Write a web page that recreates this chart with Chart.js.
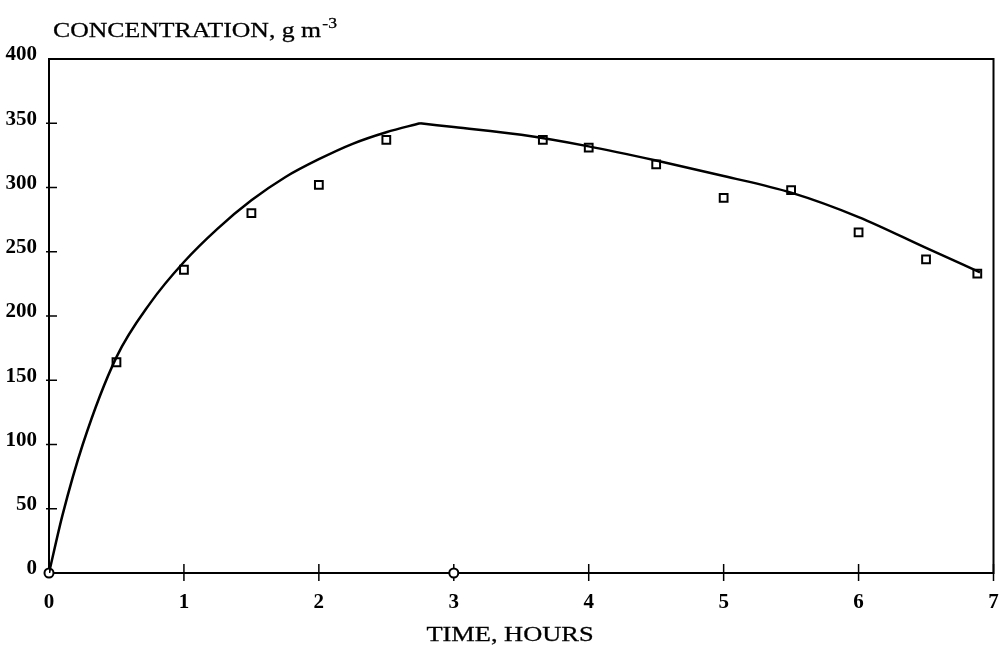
<!DOCTYPE html>
<html>
<head>
<meta charset="utf-8">
<script src="https://cdn.jsdelivr.net/npm/chart.js@4"></script>
<style>
  html, body { margin: 0; padding: 0; background: #fff; }
  #wrap { width: 1001px; height: 656px; position: relative; }
</style>
</head>
<body>
<div id="wrap"><canvas id="concChart"></canvas></div>
<script>
// model curve, split at the end of the infusion so the peak stays sharp
const riseT = [0, 0.1, 0.25, 0.5, 0.75, 1, 1.25, 1.5, 1.75, 2, 2.25, 2.5, 2.75];
const riseC = [0, 45, 100, 168, 210, 242, 268, 290, 308, 322, 334, 343, 350];
const fallT = [2.75, 3, 3.5, 4, 4.5, 5, 5.5, 6, 6.5, 6.9];
const fallC = [350, 347, 341, 332, 321, 309, 296, 277, 253, 234];

// measured concentrations
const measT = [0.5, 1, 1.5, 2, 2.5, 3.66, 4, 4.5, 5, 5.5, 6, 6.5, 6.88];
const measC = [164, 236, 280, 302, 337, 337, 331, 318, 292, 298, 265, 244, 233];

// samples at zero concentration
const zeroT = [0, 3];
const zeroC = [0, 0];

const xTicks = [0, 1, 2, 3, 4, 5, 6, 7];
const yTicks = [0, 50, 100, 150, 200, 250, 300, 350, 400];

const toXY = (xs, ys) => xs.map((x, i) => ({ x: x, y: ys[i] }));

const SERIF = '"Liberation Serif", "Times New Roman", serif';

// no label overhang padding: the plot box is placed by layout.padding alone
const noPad = s => {
    s.paddingLeft = 0;
    s.paddingRight = 0;
    s.paddingTop = 0;
    s.paddingBottom = 0;
};

// filled text with a thin outline so it reads a little darker
function heavyText(ctx, text, x, y) {
    ctx.fillText(text, x, y);
    ctx.strokeText(text, x, y);
}

// frame, tick marks and the two axis captions
const framePlugin = {
    id: 'frame',
    beforeDatasetsDraw(chart) {
        const { ctx, chartArea: a, scales } = chart;
        ctx.save();
        ctx.strokeStyle = '#000';
        ctx.lineWidth = 2;
        ctx.strokeRect(a.left, a.top, a.right - a.left, a.bottom - a.top);

        ctx.lineWidth = 1.5;
        yTicks.forEach(v => {
            if (v === 0 || v === 400) return;
            const y = scales.y.getPixelForValue(v);
            ctx.beginPath();
            ctx.moveTo(a.left - 3, y);
            ctx.lineTo(a.left + 8, y);
            ctx.stroke();
        });
        xTicks.forEach(v => {
            if (v === 0) return;
            const x = scales.x.getPixelForValue(v);
            ctx.beginPath();
            ctx.moveTo(x, a.bottom - 9);
            ctx.lineTo(x, a.bottom + 8);
            ctx.stroke();
        });

        ctx.fillStyle = '#000';
        ctx.textBaseline = 'alphabetic';
        ctx.lineWidth = 0.3;

        // y caption with superscript
        ctx.save();
        ctx.translate(53, 37);
        ctx.scale(1.17, 1);
        ctx.font = '22px ' + SERIF;
        ctx.textAlign = 'left';
        const main = 'CONCENTRATION, g m';
        heavyText(ctx, main, 0, 0);
        const w = ctx.measureText(main).width;
        ctx.font = '15px ' + SERIF;
        heavyText(ctx, '-3', w + 1, -9);
        ctx.restore();

        // x caption
        ctx.save();
        ctx.translate(510, 641);
        ctx.scale(1.2, 1);
        ctx.font = '22px ' + SERIF;
        ctx.textAlign = 'center';
        heavyText(ctx, 'TIME, HOURS', 0, 0);
        ctx.restore();

        ctx.restore();
    }
};

const ctx = document.getElementById('concChart').getContext('2d');
new Chart(ctx, {
    type: 'scatter',
    data: {
        datasets: [
            {
                type: 'line',
                data: toXY(riseT, riseC),
                borderColor: '#000',
                borderWidth: 2.5,
                pointRadius: 0,
                cubicInterpolationMode: 'monotone',
                fill: false
            },
            {
                type: 'line',
                data: toXY(fallT, fallC),
                borderColor: '#000',
                borderWidth: 2.5,
                pointRadius: 0,
                cubicInterpolationMode: 'monotone',
                fill: false
            },
            {
                data: toXY(measT, measC),
                pointStyle: 'rect',
                pointRadius: 5.5,
                borderColor: '#000',
                backgroundColor: '#fff',
                borderWidth: 2
            },
            {
                data: toXY(zeroT, zeroC),
                pointStyle: 'circle',
                pointRadius: 4.5,
                borderColor: '#000',
                backgroundColor: '#fff',
                borderWidth: 2,
                clip: false
            }
        ]
    },
    options: {
        responsive: true,
        maintainAspectRatio: false,
        animation: false,
        layout: { padding: { top: 59, right: 7, bottom: 0, left: 0 } },
        plugins: {
            legend: { display: false },
            tooltip: { enabled: false },
            title: { display: false }
        },
        scales: {
            x: {
                type: 'linear',
                min: 0,
                max: 7,
                grid: { display: false },
                border: { display: false },
                afterFit: s => { s.height = 83; noPad(s); },
                afterBuildTicks: s => { s.ticks = xTicks.map(v => ({ value: v })); },
                ticks: {
                    color: '#000',
                    padding: 9,
                    font: { family: SERIF, size: 21, weight: 'bold' }
                }
            },
            y: {
                type: 'linear',
                min: 0,
                max: 400,
                grid: { display: false },
                border: { display: false },
                afterFit: s => { s.width = 49; noPad(s); },
                afterBuildTicks: s => { s.ticks = yTicks.map(v => ({ value: v })); },
                ticks: {
                    color: '#000',
                    padding: 4,
                    labelOffset: -4,
                    font: { family: SERIF, size: 21, weight: 'bold' }
                }
            }
        }
    },
    plugins: [framePlugin]
});
</script>
</body>
</html>
